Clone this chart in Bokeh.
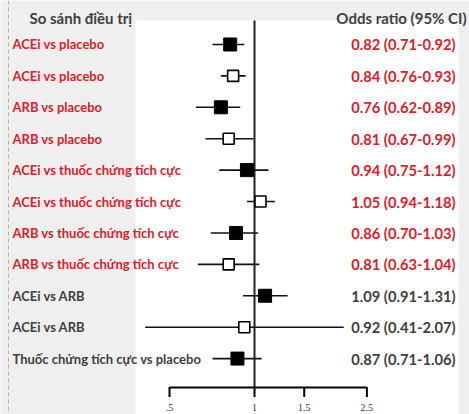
from bokeh.plotting import figure
from bokeh.models import (Range1d, LabelSet, ColumnDataSource, Span, Label)
from bokeh.core.properties import value
from bokeh.embed import file_html
from bokeh.resources import INLINE

comparisons = [
    "ACEi vs placebo", "ACEi vs placebo", "ARB vs placebo", "ARB vs placebo",
    "ACEi vs thuốc chứng tích cực", "ACEi vs thuốc chứng tích cực",
    "ARB vs thuốc chứng tích cực", "ARB vs thuốc chứng tích cực",
    "ACEi vs ARB", "ACEi vs ARB", "Thuốc chứng tích cực vs placebo",
]
odds_ratio = [0.82, 0.84, 0.76, 0.81, 0.94, 1.05, 0.86, 0.81, 1.09, 0.92, 0.87]
ci_low = [0.71, 0.76, 0.62, 0.67, 0.75, 0.94, 0.70, 0.63, 0.91, 0.41, 0.71]
ci_high = [0.92, 0.93, 0.89, 0.99, 1.12, 1.18, 1.03, 1.04, 1.31, 2.07, 1.06]
filled = [True, False, True, False, True, False, True, False, True, False, True]
significant = [True] * 8 + [False] * 3
tick_values = [0.5, 1, 1.5, 2.5]
tick_labels = [".5", "1", "1.5", "2.5"]

RED = "#d7202a"
GRAY = "#404040"
AXIS_ROW = 11.92     # axis rule position (row units)
TICK_MID = 12.065    # tick mark centre
LABEL_ROW = 12.56    # tick label centre
Y_BOTTOM = 12.78

rows = list(range(1, len(comparisons) + 1))
or_text = [f"{o:.2f} ({l:.2f}-{h:.2f})" for o, l, h in zip(odds_ratio, ci_low, ci_high)]
colors = [RED if s else GRAY for s in significant]

src = ColumnDataSource(dict(row=rows, label=comparisons, orv=odds_ratio, lo=ci_low,
                            hi=ci_high, ortext=or_text, color=colors))
src_f = ColumnDataSource(dict(row=[r for r, f in zip(rows, filled) if f],
                              orv=[o for o, f in zip(odds_ratio, filled) if f]))
src_o = ColumnDataSource(dict(row=[r for r, f in zip(rows, filled) if not f],
                              orv=[o for o, f in zip(odds_ratio, filled) if not f]))
tick_src = ColumnDataSource(dict(t=tick_values, lab=tick_labels,
                                 ym=[TICK_MID] * len(tick_values),
                                 yl=[LABEL_ROW] * len(tick_values)))

p = figure(width=469, height=414, x_axis_type="log", output_backend="svg",
           toolbar_location=None, x_axis_location=None, y_axis_location=None,
           x_range=Range1d(0.1260, 5.773), y_range=Range1d(Y_BOTTOM, -0.40),
           min_border_left=0, min_border_right=0, min_border_top=0, min_border_bottom=0)
p.outline_line_color = None
p.background_fill_color = "#efefef"
p.border_fill_color = "#efefef"
p.grid.visible = False

p.quad(left=[0.379], right=[5.28], top=[0.236], bottom=[Y_BOTTOM],
       fill_color="white", line_color=None, level="underlay")
p.add_layout(Span(location=8, location_units="screen", dimension="height",
                  line_color="#b0b0b0", line_dash="4 3", line_width=1))

# reference line at OR = 1
p.line(x=[1, 1], y=[0.236, AXIS_ROW], line_color="#222222", line_width=2)
# axis rule (filled bar), ticks and tick labels
p.quad(left=[tick_values[0]], right=[tick_values[-1]], top=[AXIS_ROW - 0.03],
       bottom=[AXIS_ROW + 0.03], fill_color="black", line_color=None)
p.rect(x="t", y="ym", width=2, height=10, width_units="screen", height_units="screen",
       source=tick_src, fill_color="black", line_color=None)
p.text(x="t", y="yl", text="lab", source=tick_src, text_align="center",
       text_baseline="middle", text_font=value("Liberation Sans Narrow"),
       text_font_size="10px", text_color="#333333")

p.segment(x0="lo", x1="hi", y0="row", y1="row", source=src, line_color="#111111",
          line_width=1.6)
p.scatter("orv", "row", source=src_f, marker="square", size=13, fill_color="black",
          line_color="black")
p.scatter("orv", "row", source=src_o, marker="square", size=11, fill_color="white",
          line_color="black", line_width=1.6)

p.add_layout(LabelSet(x=12, x_units="screen", y="row", text="label", source=src,
                      text_color="color", text_font=value("Lato"), text_font_style="bold",
                      text_font_size="13px", text_baseline="middle"))
p.add_layout(LabelSet(x=455, x_units="screen", y="row", text="ortext", source=src,
                      text_color="color", text_font=value("Lato"), text_font_style="bold",
                      text_font_size="14.7px", text_baseline="middle", text_align="right"))
p.add_layout(Label(x=29, x_units="screen", y=0.172, text="So sánh điều trị",
                   text_color=GRAY, text_font="Lato", text_font_style="bold",
                   text_font_size="15px", text_baseline="middle"))
p.add_layout(Label(x=466, x_units="screen", y=0.172, text="Odds ratio (95% CI)",
                   text_color=GRAY, text_font="Lato", text_font_style="bold",
                   text_font_size="15px", text_baseline="middle", text_align="right"))

open("out.html", "w").write(file_html(p, INLINE))
